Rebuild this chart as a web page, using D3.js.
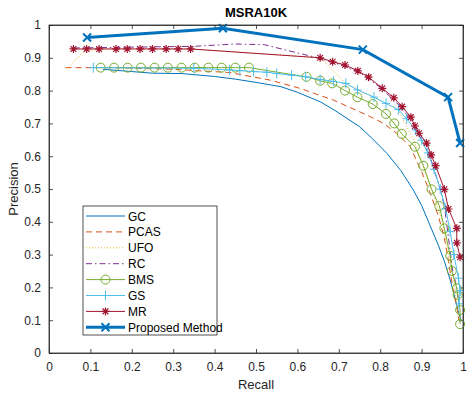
<!DOCTYPE html>
<html>
<head>
<meta charset="utf-8">
<script src="https://cdn.jsdelivr.net/npm/d3@7"></script>
<style>
  body { margin: 0; background: #fff; }
  svg { font-family: "Liberation Sans", Arial, sans-serif; }
</style>
</head>
<body>
<svg id="chart" width="467" height="396"></svg>
<script>
'use strict';

// recall / precision pairs
var methodNames = ["GC", "PCAS", "UFO", "RC", "BMS", "GS", "MR", "Proposed Method"];

var gcPts = [[0.13,0.865],[0.2,0.858],[0.25,0.853],[0.32,0.852],[0.4,0.843],[0.45,0.835],[0.5,0.825],
  [0.56,0.812],[0.6,0.795],[0.655,0.766],[0.69,0.74],[0.75,0.69],[0.78,0.655],[0.816,0.609],[0.85,0.556],
  [0.88,0.497],[0.9,0.45],[0.92,0.39],[0.94,0.33],[0.955,0.28],[0.969,0.223],[0.98,0.17],[0.99,0.12],[0.995,0.1]];

var pcasPts = [[0.04,0.87],[0.15,0.87],[0.3,0.865],[0.437,0.855],[0.534,0.832],[0.606,0.807],[0.687,0.771],
  [0.767,0.726],[0.808,0.70],[0.84,0.67],[0.872,0.63],[0.9,0.553],[0.92,0.49],[0.94,0.42],[0.955,0.35],
  [0.965,0.28],[0.975,0.2],[0.985,0.14],[0.99,0.1]];

var ufoPts = [[0.046,0.87],[0.08,0.915],[0.121,0.927],[0.342,0.927],[0.655,0.9],[0.717,0.822],[0.785,0.78],
  [0.844,0.742],[0.884,0.64],[0.905,0.57],[0.93,0.48],[0.95,0.4],[0.965,0.3],[0.98,0.2],[0.99,0.1]];

var rcPts = [[0.06,0.93],[0.35,0.935],[0.45,0.942],[0.52,0.94],[0.6,0.915],[0.65,0.9],[0.7,0.88],[0.75,0.855],
  [0.8,0.81],[0.85,0.75],[0.88,0.7],[0.9,0.65],[0.92,0.6],[0.94,0.52],[0.955,0.45],[0.965,0.35],[0.975,0.25],
  [0.985,0.2],[0.99,0.15]];

var bmsPts = [[0.125,0.87],[0.157,0.87],[0.19,0.87],[0.222,0.87],[0.255,0.87],[0.287,0.87],[0.32,0.87],
  [0.352,0.87],[0.385,0.87],[0.417,0.87],[0.45,0.87],[0.483,0.87],[0.622,0.842],[0.655,0.83],[0.684,0.822],
  [0.715,0.80],[0.745,0.78],[0.782,0.759],[0.814,0.729],[0.834,0.70],[0.852,0.668],[0.884,0.629],[0.904,0.571],
  [0.924,0.499],[0.943,0.448],[0.955,0.38],[0.969,0.296],[0.973,0.25],[0.985,0.197],[0.987,0.177],
  [0.993,0.131],[0.993,0.088]];

var gsPts = [[0.107,0.87],[0.35,0.868],[0.436,0.863],[0.461,0.861],[0.494,0.858],[0.526,0.856],[0.55,0.852],
  [0.586,0.847],[0.62,0.842],[0.655,0.834],[0.687,0.828],[0.717,0.822],[0.745,0.802],[0.785,0.78],
  [0.814,0.761],[0.844,0.742],[0.864,0.714],[0.885,0.68],[0.90,0.649],[0.915,0.61],[0.93,0.56],[0.945,0.5],
  [0.958,0.44],[0.969,0.37],[0.978,0.3],[0.989,0.228],[0.993,0.19],[0.99,0.15]];

var mrPts = [[0.059,0.927],[0.091,0.927],[0.121,0.927],[0.162,0.927],[0.189,0.927],[0.22,0.927],[0.25,0.927],
  [0.283,0.927],[0.312,0.927],[0.342,0.927],[0.655,0.9],[0.685,0.888],[0.715,0.878],[0.746,0.86],[0.772,0.841],
  [0.805,0.807],[0.833,0.778],[0.853,0.751],[0.874,0.719],[0.884,0.692],[0.894,0.67],[0.912,0.64],
  [0.923,0.604],[0.934,0.571],[0.955,0.499],[0.965,0.439],[0.985,0.38],[0.985,0.336],[0.993,0.292]];

var proposedPts = [[0.092,0.962],[0.42,0.99],[0.758,0.925],[0.964,0.78],[0.993,0.64]];

var xTicks = [0, 0.1, 0.2, 0.3, 0.4, 0.5, 0.6, 0.7, 0.8, 0.9, 1];
var yTicks = [0, 0.1, 0.2, 0.3, 0.4, 0.5, 0.6, 0.7, 0.8, 0.9, 1];

var series = [
  { name: methodNames[0], pts: gcPts, color: "#0072BD", width: 1, dash: null, marker: null },
  { name: methodNames[1], pts: pcasPts, color: "#D95319", width: 1, dash: "6,4", marker: null },
  { name: methodNames[2], pts: ufoPts, color: "#EDB120", width: 1, dash: "1,2", marker: null },
  { name: methodNames[3], pts: rcPts, color: "#7E2F8E", width: 1, dash: "6,3,1.5,3", marker: null },
  { name: methodNames[4], pts: bmsPts, color: "#77AC30", width: 1, dash: null, marker: "circle" },
  { name: methodNames[5], pts: gsPts, color: "#4DBEEE", width: 1, dash: null, marker: "plus" },
  { name: methodNames[6], pts: mrPts, color: "#A2142F", width: 1, dash: null, marker: "star" },
  { name: methodNames[7], pts: proposedPts, color: "#0072BD", width: 3, dash: null, marker: "cross" }
];

var svg = d3.select("#chart"),
  margin = { top: 25, right: 4, bottom: 43, left: 49 },
  width = +svg.attr("width") - margin.left - margin.right,
  height = +svg.attr("height") - margin.top - margin.bottom;

var x = d3.scaleLinear().domain([0, 1]).range([0, width]);
var y = d3.scaleLinear().domain([0, 1]).range([height, 0]);

var g = svg.append("g")
  .attr("transform", "translate(" + margin.left + "," + margin.top + ")");

var axisColor = "#262626";
var fmt = function (d) { return d3.format("~g")(d); };

// axes, ticks pointing inwards like matlab
var xAxis = g.append("g")
  .attr("transform", "translate(0," + height + ")")
  .call(d3.axisBottom(x).tickValues(xTicks).tickFormat(fmt).tickSizeInner(-4).tickSizeOuter(0).tickPadding(9));
var yAxis = g.append("g")
  .call(d3.axisLeft(y).tickValues(yTicks).tickFormat(fmt).tickSizeInner(-4).tickSizeOuter(0).tickPadding(8));
var xTop = g.append("g")
  .call(d3.axisTop(x).tickValues(xTicks).tickFormat("").tickSizeInner(-4).tickSizeOuter(0));
var yRight = g.append("g")
  .attr("transform", "translate(" + width + ",0)")
  .call(d3.axisRight(y).tickValues(yTicks).tickFormat("").tickSizeInner(-4).tickSizeOuter(0));

[xAxis, yAxis, xTop, yRight].forEach(function (a) {
  a.selectAll("path, line").attr("stroke", axisColor).attr("stroke-width", 0.8);
  a.selectAll("text").attr("fill", axisColor).style("font-size", "12px");
});

// markers
function drawMarker(sel, type, color) {
  var s = 4;
  if (type === "circle") {
    sel.append("circle").attr("r", 4.5).attr("fill", "none").attr("stroke", color).attr("stroke-width", 1);
  } else if (type === "plus") {
    sel.append("path").attr("d", "M" + (-s) + ",0H" + s + "M0," + (-s - 1) + "V" + (s + 1))
      .attr("stroke", color).attr("stroke-width", 1);
  } else if (type === "star") {
    var d = s * 0.72;
    sel.append("path")
      .attr("d", "M" + (-s) + ",0H" + s + "M0," + (-s) + "V" + s +
        "M" + (-d) + "," + (-d) + "L" + d + "," + d + "M" + (-d) + "," + d + "L" + d + "," + (-d))
      .attr("stroke", color).attr("stroke-width", 1.2);
  } else if (type === "cross") {
    sel.append("path")
      .attr("d", "M-4,-4L4,4M-4,4L4,-4")
      .attr("stroke", color).attr("stroke-width", 2);
  }
}

var line = d3.line()
  .x(function (d) { return x(d[0]); })
  .y(function (d) { return y(d[1]); });

var plot = g.append("g");

series.forEach(function (s) {
  plot.append("path")
    .datum(s.pts)
    .attr("fill", "none")
    .attr("stroke", s.color)
    .attr("stroke-width", s.width)
    .attr("stroke-dasharray", s.dash)
    .attr("d", line);
  if (s.marker) {
    plot.selectAll(null)
      .data(s.pts)
      .enter().append("g")
      .attr("transform", function (d) { return "translate(" + x(d[0]) + "," + y(d[1]) + ")"; })
      .each(function () { drawMarker(d3.select(this), s.marker, s.color); });
  }
});

// box border on top
g.append("rect")
  .attr("width", width).attr("height", height)
  .attr("fill", "none").attr("stroke", axisColor).attr("stroke-width", 0.8);

// title and labels
svg.append("text")
  .attr("x", margin.left + width / 2).attr("y", 17)
  .attr("text-anchor", "middle")
  .style("font-size", "13px").style("font-weight", "bold")
  .attr("fill", "#000")
  .text("MSRA10K");

svg.append("text")
  .attr("x", margin.left + width / 2).attr("y", 389)
  .attr("text-anchor", "middle")
  .style("font-size", "13px")
  .attr("fill", axisColor)
  .text("Recall");

svg.append("text")
  .attr("transform", "translate(18," + (margin.top + height / 2) + ") rotate(-90)")
  .attr("text-anchor", "middle")
  .style("font-size", "13px")
  .attr("fill", axisColor)
  .text("Precision");

// legend
var legend = svg.append("g").attr("transform", "translate(83,206)");
legend.append("rect")
  .attr("width", 134).attr("height", 129)
  .attr("fill", "#fff").attr("stroke", axisColor).attr("stroke-width", 0.8);

series.forEach(function (s, i) {
  var ly = 10 + i * 15.9;
  var row = legend.append("g").attr("transform", "translate(0," + ly + ")");
  row.append("line")
    .attr("x1", 3).attr("x2", 42).attr("y1", 0).attr("y2", 0)
    .attr("stroke", s.color)
    .attr("stroke-width", s.width)
    .attr("stroke-dasharray", s.dash);
  if (s.marker) {
    var m = row.append("g").attr("transform", "translate(22.5,0)");
    drawMarker(m, s.marker, s.color);
  }
  row.append("text")
    .attr("x", 45).attr("y", 4.5)
    .style("font-size", "12px")
    .attr("fill", "#000")
    .text(s.name);
});
</script>
</body>
</html>
